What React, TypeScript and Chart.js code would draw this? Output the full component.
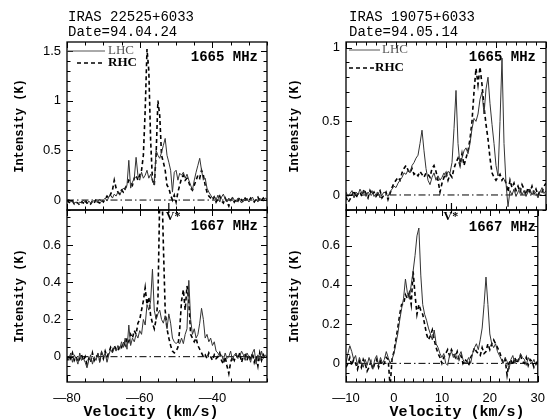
import React, { useEffect, useRef } from "react";
import { Chart, registerables } from "chart.js";

Chart.register(...registerables);

// ---------- velocity channels ----------
const LEFT_V_START = -80;
const LEFT_V_STEP = 0.5;
const RIGHT_V_START = -10;
const RIGHT_V_STEP = 0.4;

// ---------- IRAS 22525+6033, 1665 MHz ----------
const A_LHC = [
  -0.01, 0.01, -0.02, -0.01, -0.03, -0.02, -0.04, -0.02, -0.03, 0.0,
  -0.02, -0.04, -0.01, -0.03, -0.02, 0.0, -0.02, -0.01, 0.01, -0.02,
  0.0, 0.02, -0.01, 0.03, 0.05, 0.02, 0.06, 0.04, 0.08, 0.05,
  0.09, 0.12, 0.1, 0.15, 0.4, 0.12, 0.18, 0.22, 0.43, 0.25,
  0.2, 0.28, 0.22, 0.25, 0.3, 0.22, 0.26, 0.2, 0.15, 0.5,
  0.45, 0.42, 0.48, 0.55, 0.62, 0.45, 0.38, 0.3, 0.08, 0.28,
  0.3, 0.2, 0.27, 0.25, 0.28, 0.22, 0.26, 0.2, 0.15, 0.1,
  0.2, 0.28, 0.35, 0.42, 0.3, 0.2, 0.22, 0.12, 0.08, 0.05,
  0.02, 0.04, 0.0, 0.05, -0.02, 0.03, 0.06, 0.01, -0.02, 0.02,
  -0.01, 0.03, 0.0, -0.02, 0.02, 0.0, -0.03, 0.01, -0.01, 0.02,
  -0.02, 0.0, 0.03, -0.01, 0.01, -0.02, 0.02, 0.0, -0.01, 0.02,
  0.01,
];
const A_RHC = [
  0.0, -0.02, -0.03, -0.01, -0.04, -0.02, -0.03, -0.05, -0.02, -0.03,
  0.0, -0.03, -0.02, -0.04, -0.01, -0.03, 0.01, -0.02, -0.03, 0.0,
  -0.02, 0.01, 0.04, 0.02, 0.06, 0.1, 0.2, 0.12, 0.08, 0.06,
  0.1, 0.08, 0.12, 0.15, 0.2, 0.18, 0.15, 0.22, 0.25, 0.2,
  0.25, 0.3, 0.45, 0.9, 1.52, 1.3, 0.6, 0.2, 0.15, 0.45,
  1.0, 0.85, 0.45, 0.38, 0.3, 0.15, 0.12, 0.05, 0.0, 0.05,
  -0.02, 0.08, 0.15, 0.22, 0.25, 0.2, 0.22, 0.18, 0.12, 0.1,
  0.15, 0.2, 0.25, 0.22, 0.3, 0.25, 0.15, 0.08, 0.04, 0.02,
  0.0, 0.03, -0.02, 0.01, 0.04, -0.01, -0.03, 0.02, -0.02, -0.06,
  0.0, 0.02, -0.02, 0.01, -0.01, 0.03, 0.0, -0.02, 0.02, 0.0,
  -0.01, 0.02, 0.0, -0.02, 0.01, 0.03, -0.01, 0.0, 0.02, -0.01,
  0.0,
];

// ---------- IRAS 22525+6033, 1667 MHz ----------
const B_LHC = [
  0.0, -0.02, 0.02, -0.03, 0.01, -0.01, -0.04, 0.02, -0.02, -0.01,
  -0.03, -0.06, -0.02, 0.01, -0.04, 0.0, -0.02, 0.02, -0.03, 0.03,
  0.0, 0.02, -0.03, 0.01, 0.04, 0.02, 0.05, 0.03, 0.06, 0.04,
  0.08, 0.05, 0.1, 0.04, 0.17, 0.06, 0.1, 0.08, 0.12, 0.1,
  0.14, 0.12, 0.2, 0.17, 0.28, 0.25, 0.3, 0.47, 0.25, 0.2,
  0.23, 0.25, 0.2, 0.18, 0.22, 0.15, 0.23, 0.18, 0.1, 0.08,
  0.07, 0.08, 0.07, 0.1, 0.07, 0.12, 0.15, 0.41, 0.2, 0.12,
  0.15, 0.1, 0.12, 0.18, 0.26, 0.2, 0.1, 0.12, 0.08, 0.1,
  0.06, 0.08, 0.03, 0.02, 0.0, 0.01, -0.02, 0.02, -0.01, 0.0,
  0.03, -0.02, 0.01, 0.02, -0.01, 0.0, 0.03, 0.01, -0.02, 0.02,
  0.0, -0.03, 0.02, 0.04, -0.04, 0.01, -0.02, 0.03, -0.01, 0.01,
  0.0,
];
const B_RHC = [
  -0.02, 0.01, -0.01, 0.02, -0.02, 0.0, -0.03, -0.01, 0.01, -0.02,
  0.0, -0.04, -0.01, -0.03, 0.02, -0.02, 0.0, 0.01, -0.02, 0.02,
  -0.01, 0.03, 0.0, 0.02, 0.05, 0.03, 0.06, 0.04, 0.03, 0.06,
  0.05, 0.08, 0.06, 0.1, 0.08, 0.12, 0.1, 0.14, 0.12, 0.18,
  0.2, 0.25, 0.3, 0.37, 0.28, 0.32, 0.22, 0.18, 0.15, 0.2,
  0.3, 0.85, 1.0, 0.6, 0.25, 0.15, 0.1, 0.06, 0.03, 0.02,
  0.03, 0.05, 0.15, 0.3, 0.36, 0.25, 0.38, 0.3, 0.12, 0.1,
  0.08, 0.1, 0.06, 0.04, 0.02, 0.0, 0.01, -0.01, 0.02, 0.0,
  -0.02, 0.01, -0.01, 0.0, 0.02, -0.02, -0.04, 0.0, -0.05, -0.09,
  -0.03, 0.0, -0.02, 0.01, -0.01, 0.02, -0.03, 0.0, 0.01, -0.02,
  0.01, -0.02, 0.02, -0.03, 0.0, -0.05, 0.02, -0.02, 0.01, -0.01,
  0.0,
];

// ---------- IRAS 19075+6033, 1665 MHz ----------
const C_LHC = [
  0.02, -0.01, 0.01, 0.03, -0.02, 0.02, 0.0, 0.04, 0.01, 0.03,
  -0.01, 0.02, 0.0, 0.03, -0.01, 0.01, 0.02, -0.02, 0.0, 0.02,
  0.01, -0.01, 0.02, 0.04, 0.06, 0.05, 0.08, 0.1, 0.12, 0.15,
  0.14, 0.17, 0.15, 0.2, 0.22, 0.25, 0.27, 0.35, 0.44, 0.3,
  0.18, 0.1, 0.07, 0.12, 0.15, 0.1, 0.13, 0.1, 0.12, 0.15,
  0.12, 0.16, 0.15, 0.22, 0.45, 0.71, 0.35, 0.2, 0.25, 0.3,
  0.32, 0.28, 0.35, 0.45, 0.52, 0.5, 0.55, 0.65, 0.7, 0.55,
  0.72, 0.8, 0.62, 0.48, 0.35, 0.2, 0.13, 0.5, 0.93, 0.35,
  0.08, -0.08, 0.03, 0.0, 0.04, -0.01, 0.02, 0.05, 0.0, 0.03,
  -0.01, 0.02, 0.04, 0.0, 0.03, 0.01, -0.02, 0.02, 0.05, 0.01,
  0.03,
];
const C_RHC = [
  -0.01, -0.05, -0.03, 0.0, 0.03, -0.02, 0.01, 0.02, -0.01, 0.04,
  0.01, -0.02, 0.03, 0.0, 0.02, -0.01, 0.01, 0.03, -0.02, 0.0,
  0.02, -0.03, 0.01, 0.05, 0.08, 0.1, 0.12, 0.1, 0.15, 0.18,
  0.2, 0.17, 0.15, 0.18, 0.14, 0.15, 0.13, 0.16, 0.14, 0.12,
  0.15, 0.14, 0.12, 0.18, 0.2, 0.16, 0.1, 0.02, 0.08, 0.12,
  0.15, 0.1, 0.14, 0.12, 0.18, 0.22, 0.25, 0.2, 0.28, 0.2,
  0.25, 0.3, 0.38, 0.5, 0.7, 0.86, 0.75, 0.87, 0.75, 0.6,
  0.48, 0.38, 0.25, 0.15, 0.12, 0.1, 0.12, 0.14, 0.1, 0.12,
  0.08, 0.02, 0.1, 0.05, 0.08, 0.03, 0.06, 0.02, 0.07, 0.04,
  0.0, 0.05, 0.02, 0.06, 0.01, 0.04, 0.0, 0.03, 0.02, 0.06,
  0.08,
];

// ---------- IRAS 19075+6033, 1667 MHz ----------
const D_LHC = [
  0.0, 0.05, 0.09, 0.06, 0.02, 0.04, -0.01, 0.03, 0.0, -0.02,
  0.02, -0.01, 0.03, 0.0, -0.03, 0.02, 0.04, -0.01, 0.03, 0.0,
  0.02, 0.06, 0.03, 0.0, 0.02, 0.05, 0.1, 0.15, 0.22, 0.28,
  0.33, 0.43, 0.36, 0.33, 0.4, 0.47, 0.55, 0.65, 0.69, 0.45,
  0.3, 0.25, 0.22, 0.18, 0.15, 0.12, 0.17, 0.1, 0.08, 0.05,
  0.03, 0.05, 0.0, -0.01, 0.04, 0.06, 0.03, 0.05, 0.02, 0.04,
  0.06, 0.02, 0.0, 0.01, 0.03, 0.0, 0.05, 0.08, 0.1, 0.07,
  0.12, 0.18, 0.3, 0.44, 0.3, 0.15, 0.1, 0.08, 0.1, 0.06,
  0.04, 0.02, 0.0, 0.03, 0.01, -0.03, 0.02, 0.04, 0.0, 0.02,
  0.01, 0.05, 0.03, 0.02, -0.01, 0.03, 0.01, 0.0, 0.02, -0.01,
  0.0,
];
const D_RHC = [
  -0.02, 0.0, 0.03, -0.01, 0.02, 0.0, -0.03, 0.01, -0.02, 0.02,
  0.0, -0.04, -0.02, 0.01, -0.03, 0.0, 0.02, -0.02, 0.01, -0.01,
  0.0, 0.03, 0.02, -0.12, 0.02, 0.06, 0.12, 0.18, 0.25, 0.3,
  0.3, 0.35, 0.33, 0.36, 0.3, 0.47, 0.35, 0.25, 0.3, 0.27,
  0.25, 0.2, 0.15, 0.12, 0.14, 0.17, 0.12, 0.08, 0.05, 0.03,
  0.0, 0.03, 0.05, 0.07, 0.04, 0.07, 0.05, 0.03, 0.06, 0.02,
  0.04, 0.0, 0.02, 0.01, -0.01, 0.03, 0.05, 0.08, 0.06, 0.05,
  0.04, 0.08, 0.05, 0.06, 0.1, 0.07, 0.1, 0.12, 0.1, 0.08,
  0.06, 0.03, 0.0, 0.02, -0.06, 0.0, 0.02, -0.01, 0.03, 0.0,
  0.02, 0.04, 0.01, 0.0, 0.03, -0.01, 0.02, 0.01, -0.02, 0.0,
  0.01,
];

// stellar velocities
const VSTAR_22525 = -52;
const VSTAR_19075 = 12;

const MONO = "'Liberation Mono', 'DejaVu Sans Mono', monospace";
const SERIF = "'Liberation Serif', 'DejaVu Serif', serif";
const SANS = "'Liberation Sans', 'DejaVu Sans', sans-serif";

const toPoints = (vals: number[], start: number, step: number) =>
  vals.map((y, i) => ({ x: Math.round((start + step * i) * 100) / 100, y }));

const fmtTick = (v: number | string) => {
  const n = Math.round(Number(v) * 100) / 100;
  return String(n).replace("-", "\u2014");
};

type TextItem = { text: string; x: number; y: number; font: string; align?: CanvasTextAlign; color?: string; baseline?: CanvasTextBaseline };
type LegendItem = { x1: number; x2: number; y: number; dash: number[]; width: number; color: string };

type PanelCfg = {
  id: string;
  left: number; top: number; w: number; h: number;
  padTop: number; padRight: number;
  yWidth: number; xHeight: number;
  xMin: number; xMax: number; xMajor: number; xMinor: number; showX: boolean;
  yMin: number; yMax: number; yMajor: number; yMinor: number;
  yTitlePad: number;
  vStart: number; vStep: number;
  lhc: number[]; rhc: number[];
  texts: TextItem[];
  legendLines: LegendItem[];
  vstar?: { v: number; y1: number; y2: number; tx: number; ty: number };
};

const decorPlugin = {
  id: "panelDecor",
  afterDatasetsDraw(chart: any, _args: any, opts: any) {
    const { ctx, chartArea: a } = chart;
    const xs = chart.scales.x;
    const ys = chart.scales.y;
    const ox = opts.offsetX;
    const oy = opts.offsetY;
    ctx.save();
    ctx.setLineDash([]);
    ctx.strokeStyle = "#000";
    ctx.lineWidth = 1.3;
    ctx.strokeRect(a.left, a.top, a.right - a.left, a.bottom - a.top);

    const isMajor = (v: number, m: number) => Math.abs(v / m - Math.round(v / m)) < 1e-6;
    ctx.lineWidth = 1;
    ctx.beginPath();
    const k0 = Math.ceil(xs.min / opts.xMinor - 1e-9);
    for (let k = k0; k * opts.xMinor <= xs.max + 1e-9; k++) {
      const v = k * opts.xMinor;
      const px = Math.round(xs.getPixelForValue(v)) + 0.5;
      const len = isMajor(v, opts.xMajor) ? 6 : 3.5;
      ctx.moveTo(px, a.bottom);
      ctx.lineTo(px, a.bottom - len);
      ctx.moveTo(px, a.top);
      ctx.lineTo(px, a.top + len);
    }
    const j0 = Math.ceil(ys.min / opts.yMinor - 1e-9);
    for (let k = j0; k * opts.yMinor <= ys.max + 1e-9; k++) {
      const v = k * opts.yMinor;
      const py = Math.round(ys.getPixelForValue(v)) + 0.5;
      const len = isMajor(v, opts.yMajor) ? 6 : 3.5;
      ctx.moveTo(a.left, py);
      ctx.lineTo(a.left + len, py);
      ctx.moveTo(a.right, py);
      ctx.lineTo(a.right - len, py);
    }
    ctx.stroke();

    // legend samples
    (opts.legendLines as LegendItem[]).forEach((l) => {
      ctx.beginPath();
      ctx.setLineDash(l.dash);
      ctx.lineWidth = l.width;
      ctx.strokeStyle = l.color;
      ctx.moveTo(l.x1 - ox, l.y - oy);
      ctx.lineTo(l.x2 - ox, l.y - oy);
      ctx.stroke();
    });
    ctx.setLineDash([]);

    // stellar velocity marker
    if (opts.vstar) {
      const vs = opts.vstar;
      const px = xs.getPixelForValue(vs.v);
      ctx.strokeStyle = "#000";
      ctx.lineWidth = 1.2;
      ctx.beginPath();
      ctx.moveTo(px, vs.y1 - oy);
      ctx.lineTo(px, vs.y2 - oy);
      ctx.stroke();
      ctx.fillStyle = "#000";
      ctx.font = `bold 12px ${SERIF}`;
      ctx.textAlign = "left";
      ctx.textBaseline = "top";
      ctx.fillText("V*", px + vs.tx, vs.ty - oy);
    }

    (opts.texts as TextItem[]).forEach((t) => {
      ctx.fillStyle = t.color || "#000";
      ctx.font = t.font;
      ctx.textAlign = t.align || "left";
      ctx.textBaseline = t.baseline || "middle";
      ctx.fillText(t.text, t.x - ox, t.y - oy);
    });
    ctx.restore();
  },
};

const headFont = `14px ${MONO}`;
const mhzFont = `bold 14px ${MONO}`;
const xTitleFont = `bold 15px ${MONO}`;
const legLFont = `13px ${SERIF}`;
const legRFont = `bold 13px ${SERIF}`;

const PANELS: PanelCfg[] = [
  {
    id: "A", left: 0, top: 0, w: 277, h: 225, padTop: 42, padRight: 10, yWidth: 67, xHeight: 15,
    xMin: -80, xMax: -25, xMajor: 20, xMinor: 5, showX: false,
    yMin: -0.1, yMax: 1.59, yMajor: 0.5, yMinor: 0.1, yTitlePad: 13,
    vStart: LEFT_V_START, vStep: LEFT_V_STEP, lhc: A_LHC, rhc: A_RHC,
    texts: [
      { text: "IRAS 22525+6033", x: 68, y: 17, font: headFont },
      { text: "Date=94.04.24", x: 68, y: 32, font: headFont },
      { text: "1665 MHz", x: 258, y: 57, font: mhzFont, align: "right" },
      { text: "LHC", x: 108, y: 51, font: legLFont, color: "#555" },
      { text: "RHC", x: 108, y: 63, font: legRFont },
    ],
    legendLines: [
      { x1: 67, x2: 105, y: 51, dash: [], width: 1, color: "#555" },
      { x1: 77, x2: 105, y: 63, dash: [4, 3], width: 1.6, color: "#000" },
    ],
  },
  {
    id: "B", left: 0, top: 190, w: 277, h: 230, padTop: 20, padRight: 10, yWidth: 67, xHeight: 38,
    xMin: -80, xMax: -25, xMajor: 20, xMinor: 5, showX: true,
    yMin: -0.136, yMax: 0.788, yMajor: 0.2, yMinor: 0.05, yTitlePad: 13,
    vStart: LEFT_V_START, vStep: LEFT_V_STEP, lhc: B_LHC, rhc: B_RHC,
    texts: [
      { text: "1667 MHz", x: 258, y: 226, font: mhzFont, align: "right" },
      { text: "Velocity (km/s)", x: 151, y: 412, font: xTitleFont, align: "center" },
    ],
    legendLines: [],
    vstar: { v: VSTAR_22525, y1: 203, y2: 213, tx: -3, ty: 211 },
  },
  {
    id: "C", left: 277, top: 0, w: 277, h: 225, padTop: 42, padRight: 8, yWidth: 69, xHeight: 15,
    xMin: -10, xMax: 30, xMajor: 10, xMinor: 2, showX: false,
    yMin: -0.102, yMax: 1.039, yMajor: 0.5, yMinor: 0.1, yTitlePad: 11,
    vStart: RIGHT_V_START, vStep: RIGHT_V_STEP, lhc: C_LHC, rhc: C_RHC,
    texts: [
      { text: "IRAS 19075+6033", x: 349, y: 17, font: headFont },
      { text: "Date=94.05.14", x: 349, y: 32, font: headFont },
      { text: "1665 MHz", x: 536, y: 57, font: mhzFont, align: "right" },
      { text: "LHC", x: 382, y: 50, font: legLFont, color: "#555" },
      { text: "RHC", x: 375, y: 68, font: legRFont },
    ],
    legendLines: [
      { x1: 349, x2: 380, y: 50, dash: [], width: 1, color: "#555" },
      { x1: 349, x2: 374, y: 68, dash: [4, 3], width: 1.6, color: "#000" },
    ],
  },
  {
    id: "D", left: 277, top: 190, w: 277, h: 230, padTop: 20, padRight: 8, yWidth: 69, xHeight: 38,
    xMin: -10, xMax: 30, xMajor: 10, xMinor: 2, showX: true,
    yMin: -0.095, yMax: 0.782, yMajor: 0.2, yMinor: 0.05, yTitlePad: 11,
    vStart: RIGHT_V_START, vStep: RIGHT_V_STEP, lhc: D_LHC, rhc: D_RHC,
    texts: [
      { text: "1667 MHz", x: 536, y: 227, font: mhzFont, align: "right" },
      { text: "Velocity (km/s)", x: 457, y: 412, font: xTitleFont, align: "center" },
    ],
    legendLines: [],
    vstar: { v: VSTAR_19075, y1: 203, y2: 213, tx: -8, ty: 211 },
  },
];

function Panel({ cfg }: { cfg: PanelCfg }) {
  const ref = useRef<HTMLCanvasElement>(null);
  useEffect(() => {
    const canvas = ref.current;
    if (!canvas) return;
    const chart = new Chart(canvas, {
      type: "line",
      data: {
        datasets: [
          {
            label: "LHC",
            data: toPoints(cfg.lhc, cfg.vStart, cfg.vStep),
            borderColor: "#333",
            borderWidth: 1,
            pointRadius: 0,
            tension: 0,
            fill: false,
          },
          {
            label: "RHC",
            data: toPoints(cfg.rhc, cfg.vStart, cfg.vStep),
            borderColor: "#000",
            borderWidth: 1.6,
            borderDash: [4, 3],
            pointRadius: 0,
            tension: 0,
            fill: false,
          },
          {
            label: "baseline",
            data: [
              { x: cfg.xMin, y: 0 },
              { x: cfg.xMax, y: 0 },
            ],
            borderColor: "#000",
            borderWidth: 1,
            borderDash: [7, 3, 1.5, 3],
            pointRadius: 0,
            fill: false,
          },
        ],
      },
      options: {
        responsive: false,
        animation: false,
        devicePixelRatio: 1,
        layout: { padding: { top: cfg.padTop, right: cfg.padRight, left: 0, bottom: 0 } },
        plugins: {
          legend: { display: false },
          tooltip: { enabled: false },
          panelDecor: {
            offsetX: cfg.left,
            offsetY: cfg.top,
            xMajor: cfg.xMajor,
            xMinor: cfg.xMinor,
            yMajor: cfg.yMajor,
            yMinor: cfg.yMinor,
            texts: cfg.texts,
            legendLines: cfg.legendLines,
            vstar: cfg.vstar,
          },
        } as any,
        scales: {
          x: {
            type: "linear",
            min: cfg.xMin,
            max: cfg.xMax,
            afterFit: (s: any) => {
              s.height = cfg.xHeight;
            },
            grid: { display: false, drawTicks: false },
            border: { display: false },
            ticks: {
              display: cfg.showX,
              stepSize: cfg.xMajor,
              includeBounds: false,
              autoSkip: false,
              maxRotation: 0,
              minRotation: 0,
              padding: 9,
              color: "#000",
              font: { family: SANS, size: 13 },
              callback: (v: any) => fmtTick(v),
            },
          },
          y: {
            type: "linear",
            min: cfg.yMin,
            max: cfg.yMax,
            afterFit: (s: any) => {
              s.width = cfg.yWidth;
            },
            grid: { display: false, drawTicks: false },
            border: { display: false },
            ticks: {
              stepSize: cfg.yMajor,
              includeBounds: false,
              autoSkip: false,
              padding: 6,
              color: "#000",
              font: { family: SANS, size: 13 },
              callback: (v: any) => fmtTick(v),
            },
            title: {
              display: true,
              text: "Intensity (K)",
              color: "#000",
              font: { family: MONO, size: 12, weight: "bold" },
              padding: { top: cfg.yTitlePad, bottom: 0 },
            },
          },
        },
      } as any,
      plugins: [decorPlugin as any],
    });
    return () => chart.destroy();
  }, [cfg]);
  return (
    <canvas
      ref={ref}
      width={cfg.w}
      height={cfg.h}
      style={{ position: "absolute", left: cfg.left, top: cfg.top, width: cfg.w, height: cfg.h }}
    />
  );
}

export default function App() {
  return (
    <div
      style={{
        position: "absolute",
        left: 0,
        top: 0,
        width: 554,
        height: 420,
        background: "#fff",
        overflow: "hidden",
      }}
    >
      {PANELS.map((p) => (
        <Panel key={p.id} cfg={p} />
      ))}
    </div>
  );
}
